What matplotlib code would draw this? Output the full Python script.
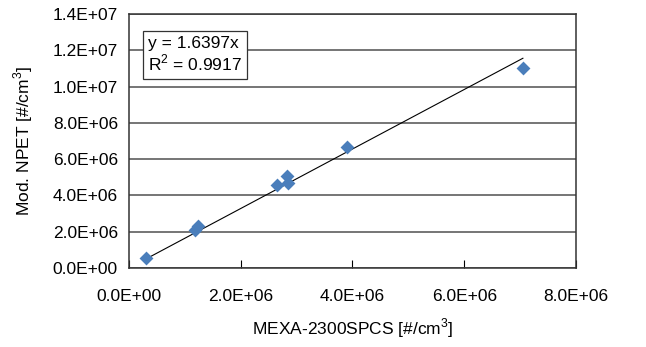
import matplotlib
matplotlib.use('Agg')
import matplotlib.pyplot as plt
import numpy as np
from matplotlib.ticker import FuncFormatter

plt.rcParams['font.family'] = ['Liberation Sans', 'DejaVu Sans']
plt.rcParams['mathtext.fontset'] = 'custom'
plt.rcParams['mathtext.rm'] = 'Liberation Sans'

# Data
mexa = [0.30e6, 1.18e6, 1.23e6, 2.65e6, 2.82e6, 2.84e6, 3.91e6, 7.05e6]
npet = [0.55e6, 2.09e6, 2.31e6, 4.60e6, 5.05e6, 4.69e6, 6.67e6, 11.0e6]
slope = 1.6397
r2 = 0.9917

fig = plt.figure(figsize=(6.46, 3.47), dpi=100)
ax = fig.add_axes([0.1997, 0.2277, 0.6919, 0.732])

ax.scatter(mexa, npet, marker='D', s=50, color='#4a7ebb', zorder=3, linewidths=0)
xf = np.array([min(mexa), max(mexa)])
ax.plot(xf, slope * xf, color='black', lw=0.8, zorder=2)

ax.set_xlim(0, 8e6)
ax.set_ylim(0, 1.4e7)
ax.set_xticks(np.arange(0, 8.1e6, 2e6))
ax.set_yticks(np.arange(0, 1.41e7, 2e6))

def sci(v, pos):
    return '%.1E' % v

ax.xaxis.set_major_formatter(FuncFormatter(sci))
ax.yaxis.set_major_formatter(FuncFormatter(sci))
ax.yaxis.grid(True, color='#505050', lw=1.1)
ax.set_axisbelow(True)
ax.tick_params(axis='x', direction='in', length=6, width=0.8, labelsize=12.5, pad=15)
ax.tick_params(axis='y', length=0, labelsize=12.5, pad=8)
for sp in ax.spines.values():
    sp.set_color('#333333')
    sp.set_linewidth(1.1)

ax.set_xlabel('MEXA-2300SPCS [#/cm$^\\mathregular{3}$]', fontsize=12.5, labelpad=9)
ax.set_ylabel('Mod. NPET [#/cm$^\\mathregular{3}$]', fontsize=12.5, labelpad=13)

ax.text(0.043, 0.915, 'y = %.4fx\nR$^\\mathregular{2}$ = %.4f' % (slope, r2), transform=ax.transAxes,
        ha='left', va='top', fontsize=12.5, linespacing=1.15,
        bbox=dict(boxstyle='square,pad=0.28', facecolor='white', edgecolor='#333333', lw=0.9))

fig.savefig('out.png', dpi=100)
